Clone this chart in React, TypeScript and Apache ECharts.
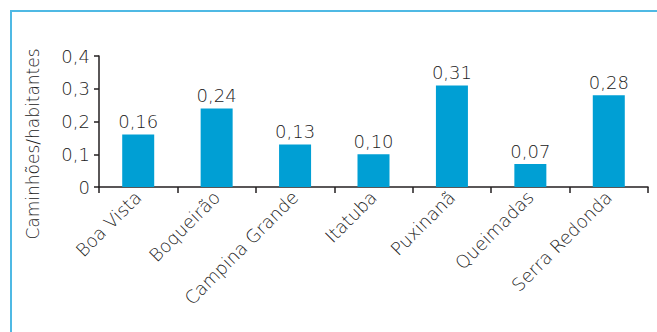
import React, { useEffect, useRef } from "react";
import * as echarts from "echarts";

const categories = ["Boa Vista", "Boqueirão", "Campina Grande", "Itatuba", "Puxinanã", "Queimadas", "Serra Redonda"];
const values = [0.16, 0.24, 0.13, 0.1, 0.31, 0.07, 0.28];
const yTicks = [0, 0.1, 0.2, 0.3, 0.4];
const yName = "Caminhões/habitantes";

const FONT = "'DejaVu Sans', sans-serif";
const W = 200;
const TEXT = "#222222";
const fmt = (v: number, d: number) => v.toFixed(d).replace(".", ",");

export default function App() {
  const ref = useRef<HTMLDivElement>(null);
  useEffect(() => {
    const chart = echarts.init(ref.current!, null, { renderer: "svg" });
    chart.setOption({
      animation: false,
      backgroundColor: "#ffffff",
      grid: { left: 99, right: 9, top: 56, bottom: 145, containLabel: false },
      graphic: [
        {
          type: "rect",
          shape: { x: 11, y: 11, width: 700, height: 400 },
          style: { fill: "none", stroke: "#4fb9e4", lineWidth: 2 },
          silent: true,
        },
        {
          type: "text",
          x: 33,
          y: 144,
          rotation: Math.PI / 2,
          style: {
            text: yName,
            fill: TEXT,
            font: `${W} 17px ${FONT}`,
            align: "center",
            verticalAlign: "middle",
          },
        },
      ],
      xAxis: {
        type: "category",
        data: categories,
        axisLine: { lineStyle: { color: "#231f20", width: 1.5 } },
        axisTick: { show: true, length: 6, alignWithLabel: false, lineStyle: { color: "#231f20", width: 1.5 } },
        axisLabel: {
          rotate: 45,
          interval: 0,
          margin: 7,
          color: TEXT,
          fontSize: 18,
          fontWeight: W,
          fontFamily: FONT,
        },
      },
      yAxis: {
        type: "value",
        min: yTicks[0],
        max: yTicks[yTicks.length - 1],
        interval: 0.1,
        splitLine: { show: false },
        axisLine: { show: true, lineStyle: { color: "#231f20", width: 1.5 } },
        axisTick: { show: true, length: 5, lineStyle: { color: "#231f20", width: 1.5 } },
        axisLabel: {
          margin: 9,
          color: TEXT,
          fontSize: 18,
          fontWeight: W,
          fontFamily: FONT,
          formatter: (v: number) => (v === 0 ? "0" : fmt(v, 1)),
        },
      },
      series: [
        {
          type: "bar",
          data: values,
          barWidth: 32,
          itemStyle: { color: "#009fd4" },
          label: {
            show: true,
            position: "top",
            distance: 4,
            color: TEXT,
            fontSize: 18,
            fontWeight: W,
            fontFamily: FONT,
            formatter: (p: any) => fmt(p.value, 2),
          },
        },
      ],
    });
    return () => chart.dispose();
  }, []);
  return <div ref={ref} style={{ position: "fixed", left: 0, top: 0, width: 657, height: 332 }} />;
}
